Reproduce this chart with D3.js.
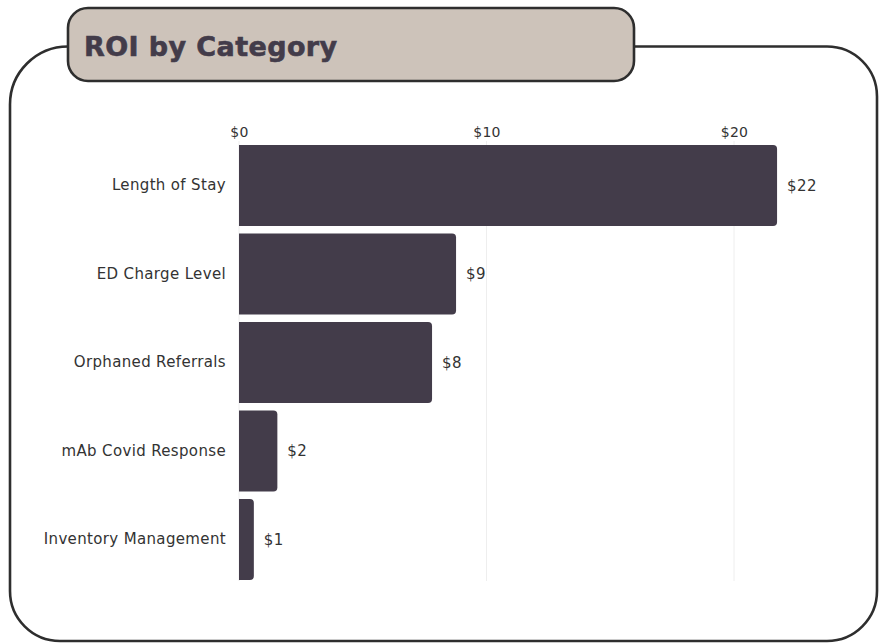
<!DOCTYPE html>
<html>
<head>
<meta charset="utf-8">
<script src="https://cdn.jsdelivr.net/npm/d3@7"></script>
<style>
  html, body { margin: 0; padding: 0; background: #ffffff; }
  svg { display: block; }
  text { font-family: "DejaVu Sans", "Inter", sans-serif; }
</style>
</head>
<body>
<svg id="chart" width="879" height="644"></svg>
<script>
// ROI per initiative, in dollars returned per dollar spent
const categories = ["Length of Stay", "ED Charge Level", "Orphaned Referrals", "mAb Covid Response", "Inventory Management"];
const roiValues = [21.74, 8.77, 7.8, 1.55, 0.6];
const tickValues = [0, 10, 20];
const chartTitle = "ROI by Category";

const svg = d3.select("#chart");
const ink = "#433c4a";
const font = "'DejaVu Sans', Inter, sans-serif";

// Card frame with a title tab on top
const frame = d3.path();
frame.moveTo(68, 46.5);
frame.arcTo(10, 46.5, 10, 104.5, 58);
frame.lineTo(10, 591);
frame.arcTo(10, 641, 60, 641, 50);
frame.lineTo(827, 641);
frame.arcTo(877, 641, 877, 591, 50);
frame.lineTo(877, 96.5);
frame.arcTo(877, 46.5, 827, 46.5, 50);
frame.lineTo(634, 46.5);
svg.append("path")
  .attr("d", frame.toString())
  .attr("fill", "none")
  .attr("stroke", "#2e2e2e")
  .attr("stroke-width", 2.6);

svg.append("rect")
  .attr("x", 68).attr("y", 8)
  .attr("width", 566).attr("height", 73)
  .attr("rx", 20)
  .attr("fill", "#cdc3ba")
  .attr("stroke", "#2e2e2e")
  .attr("stroke-width", 2.6);

svg.append("text")
  .attr("x", 84).attr("y", 56)
  .attr("font-size", 27)
  .attr("font-weight", 700)
  .attr("letter-spacing", 0.4)
  .attr("fill", ink)
  .attr("stroke", ink)
  .attr("stroke-width", 0.6)
  .text(chartTitle);

// Scales
const x = d3.scaleLinear().domain([0, 10]).range([239, 486.5]);
const y = d3.scaleBand()
  .domain(categories)
  .range([141, 584])
  .paddingInner(0.085)
  .paddingOuter(0.045);

// Gridlines
svg.append("g")
  .selectAll("line")
  .data(tickValues)
  .join("line")
  .attr("x1", d => x(d)).attr("x2", d => x(d))
  .attr("y1", 141).attr("y2", 581)
  .attr("stroke", "#eeeeee")
  .attr("stroke-width", 1);

// Top axis labels
const xAxis = d3.axisTop(x)
  .tickValues(tickValues)
  .tickFormat(d => "$" + d)
  .tickSize(0)
  .tickPadding(0);
const axisG = svg.append("g")
  .attr("transform", "translate(0,137)")
  .call(xAxis);
axisG.select(".domain").remove();
axisG.selectAll("text")
  .attr("font-size", 14)
  .attr("font-family", font)
  .attr("letter-spacing", 0.3)
  .attr("fill", "#333333");

// Category labels
const yAxis = d3.axisLeft(y).tickSize(0).tickPadding(13);
const yG = svg.append("g")
  .attr("transform", "translate(239,0)")
  .call(yAxis);
yG.select(".domain").remove();
yG.selectAll("text")
  .attr("font-size", 15)
  .attr("font-family", font)
  .attr("letter-spacing", 0.35)
  .attr("fill", "#333333");

// Bars: square on the baseline, rounded at the value end
const r = 4;
function barPath(v, cat) {
  const x0 = x(0), x1 = x(v), y0 = y(cat), h = y.bandwidth();
  const rr = Math.min(r, (x1 - x0) / 2);
  const p = d3.path();
  p.moveTo(x0, y0);
  p.lineTo(x1 - rr, y0);
  p.arcTo(x1, y0, x1, y0 + rr, rr);
  p.lineTo(x1, y0 + h - rr);
  p.arcTo(x1, y0 + h, x1 - rr, y0 + h, rr);
  p.lineTo(x0, y0 + h);
  p.closePath();
  return p.toString();
}

const rows = categories.map((c, i) => ({ cat: c, v: roiValues[i] }));

svg.append("g")
  .selectAll("path")
  .data(rows)
  .join("path")
  .attr("d", d => barPath(d.v, d.cat))
  .attr("fill", ink);

// Value labels
const fmt = d3.format(".0f");
svg.append("g")
  .selectAll("text")
  .data(rows)
  .join("text")
  .attr("x", d => x(d.v) + 10)
  .attr("y", d => y(d.cat) + y.bandwidth() / 2)
  .attr("dy", "0.35em")
  .attr("font-size", 15)
  .attr("font-family", font)
  .attr("letter-spacing", 0.4)
  .attr("fill", "#333333")
  .text(d => "$" + fmt(d.v));
</script>
</body>
</html>
